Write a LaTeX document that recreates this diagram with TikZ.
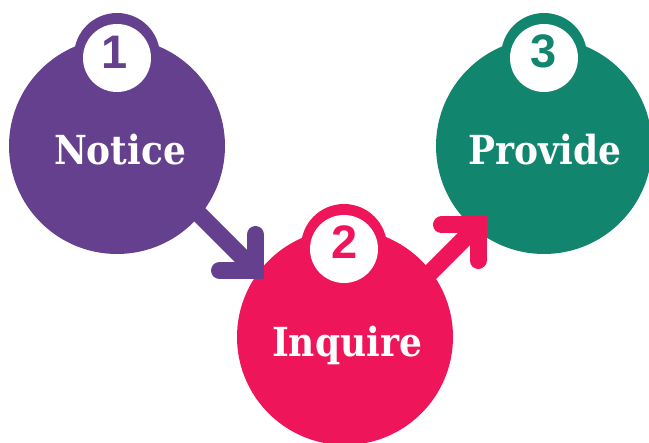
\documentclass[tikz,border=0pt]{standalone}
\usepackage{fontspec}
\newfontfamily\digitfont{Liberation Sans}
\newfontfamily\labelfont{DejaVu Serif Condensed}
\definecolor{cpurple}{RGB}{101,64,142}
\definecolor{cpink}{RGB}{238,21,91}
\definecolor{cgreen}{RGB}{18,133,110}
\begin{document}
\begin{tikzpicture}[x=1pt,y=-1pt,
  bigdisk/.style={circle,fill=#1,minimum size=216pt,inner sep=0pt},
  ringdisk/.style={circle,fill=#1,minimum size=86pt,inner sep=0pt},
  whitedisk/.style={circle,fill=white,minimum size=68pt,inner sep=0pt},
  steplabel/.style={text=white,anchor=base,font=\fontsize{40}{40}\selectfont\labelfont\bfseries},
  numlabel/.style={text=#1,anchor=base,font=\fontsize{47}{47}\selectfont\digitfont\bfseries},
  shaft/.style={draw=#1,line width=17pt,line cap=butt},
  headline/.style={draw=#1,line width=17pt,line cap=round,line join=miter}]
\useasboundingbox (0,0) rectangle (649,443);
% main circles
\node[bigdisk=cpurple] (c1) at (117,146) {};
\node[bigdisk=cpink] (c2) at (345,337) {};
\node[bigdisk=cgreen] (c3) at (544,146) {};
% arrow 1 -> 2
\coordinate (k1) at (255.5,270.5);
\coordinate (s1) at (175,190);
\coordinate (e1) at (250,265);
\coordinate (h1a) at (219.5,270.5);
\coordinate (h1b) at (255.5,234.5);
\draw[shaft=cpurple] (s1) -- (e1);
\draw[headline=cpurple] (h1a) -- (k1) -- (h1b);
% arrow 2 -> 3
\coordinate (k2) at (478,225);
\coordinate (s2) at (398,305);
\coordinate (e2) at (473,230);
\coordinate (h2a) at (441.5,225);
\coordinate (h2b) at (478,260.5);
\draw[shaft=cpink] (s2) -- (e2);
\draw[headline=cpink] (h2a) -- (k2) -- (h2b);
% badges
\node[ringdisk=cpurple] (r1) at (117,56) {};
\node[whitedisk] (w1) at (117,58) {};
\node[ringdisk=cpink] (r2) at (344,247) {};
\node[whitedisk] (w2) at (344,249) {};
\node[ringdisk=cgreen] (r3) at (544,56) {};
\node[whitedisk] (w3) at (544,58) {};
\node[numlabel=cpurple] (n1) at (115,69) {1};
\node[numlabel=cpink] (n2) at (345,259) {2};
\node[numlabel=cgreen] (n3) at (544,68) {3};
% labels
\node[steplabel] (t1) at (120,165) {Notice};
\node[steplabel] (t2) at (347,357) {Inquire};
\node[steplabel] (t3) at (545,165) {Provide};
\end{tikzpicture}
\end{document}
